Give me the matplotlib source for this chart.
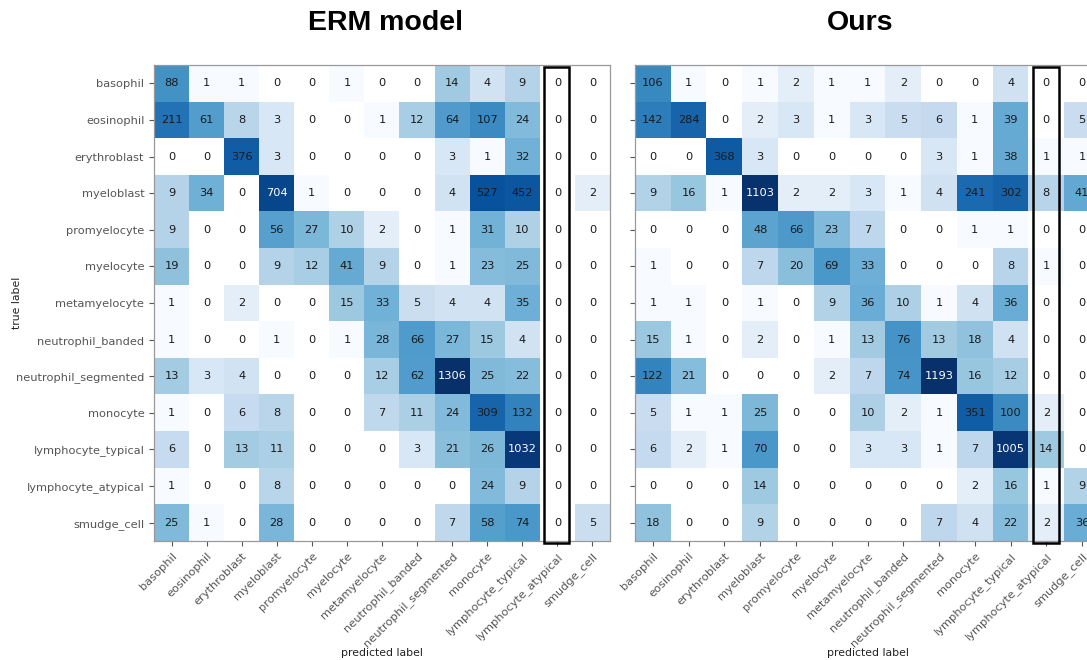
import numpy as np
import matplotlib
matplotlib.use("Agg")
import matplotlib.pyplot as plt
from matplotlib.colors import LogNorm
from matplotlib.patches import Rectangle

# Cell classes (rows = true label, columns = predicted label)
classes = [
    "basophil", "eosinophil", "erythroblast", "myeloblast", "promyelocyte",
    "myelocyte", "metamyelocyte", "neutrophil_banded", "neutrophil_segmented",
    "monocyte", "lymphocyte_typical", "lymphocyte_atypical", "smudge_cell",
]

erm_counts = [
    [88, 1, 1, 0, 0, 1, 0, 0, 14, 4, 9, 0, 0],
    [211, 61, 8, 3, 0, 0, 1, 12, 64, 107, 24, 0, 0],
    [0, 0, 376, 3, 0, 0, 0, 0, 3, 1, 32, 0, 0],
    [9, 34, 0, 704, 1, 0, 0, 0, 4, 527, 452, 0, 2],
    [9, 0, 0, 56, 27, 10, 2, 0, 1, 31, 10, 0, 0],
    [19, 0, 0, 9, 12, 41, 9, 0, 1, 23, 25, 0, 0],
    [1, 0, 2, 0, 0, 15, 33, 5, 4, 4, 35, 0, 0],
    [1, 0, 0, 1, 0, 1, 28, 66, 27, 15, 4, 0, 0],
    [13, 3, 4, 0, 0, 0, 12, 62, 1306, 25, 22, 0, 0],
    [1, 0, 6, 8, 0, 0, 7, 11, 24, 309, 132, 0, 0],
    [6, 0, 13, 11, 0, 0, 0, 3, 21, 26, 1032, 0, 0],
    [1, 0, 0, 8, 0, 0, 0, 0, 0, 24, 9, 0, 0],
    [25, 1, 0, 28, 0, 0, 0, 0, 7, 58, 74, 0, 5],
]

ours_counts = [
    [106, 1, 0, 1, 2, 1, 1, 2, 0, 0, 4, 0, 0],
    [142, 284, 0, 2, 3, 1, 3, 5, 6, 1, 39, 0, 5],
    [0, 0, 368, 3, 0, 0, 0, 0, 3, 1, 38, 1, 1],
    [9, 16, 1, 1103, 2, 2, 3, 1, 4, 241, 302, 8, 41],
    [0, 0, 0, 48, 66, 23, 7, 0, 0, 1, 1, 0, 0],
    [1, 0, 0, 7, 20, 69, 33, 0, 0, 0, 8, 1, 0],
    [1, 1, 0, 1, 0, 9, 36, 10, 1, 4, 36, 0, 0],
    [15, 1, 0, 2, 0, 1, 13, 76, 13, 18, 4, 0, 0],
    [122, 21, 0, 0, 0, 2, 7, 74, 1193, 16, 12, 0, 0],
    [5, 1, 1, 25, 0, 0, 10, 2, 1, 351, 100, 2, 0],
    [6, 2, 1, 70, 0, 0, 3, 3, 1, 7, 1005, 14, 0],
    [0, 0, 0, 14, 0, 0, 0, 0, 0, 2, 16, 1, 9],
    [18, 0, 0, 9, 0, 0, 0, 0, 7, 4, 22, 2, 36],
]

titles = ["ERM model", "Ours"]
highlight_class = "lymphocyte_atypical"

W, H = 1087, 660
fig = plt.figure(figsize=(W / 100, H / 100), dpi=100)

# axes boxes in pixel units: (left, top, right, bottom)
boxes = [(154, 65, 610, 541), (635, 65, 1100, 541)]
title_x = [385, 860]

TXT = 8.2
for k, (counts, box) in enumerate(zip([erm_counts, ours_counts], boxes)):
    cm = np.array(counts, dtype=float)
    l, t, r, b = box
    ax = fig.add_axes([l / W, 1 - b / H, (r - l) / W, (b - t) / H])
    ax.grid(False)
    masked = np.ma.masked_less_equal(cm, 0)
    ax.imshow(masked, cmap=plt.cm.Blues, norm=LogNorm(vmin=1, vmax=cm.max()),
              aspect="auto", interpolation="nearest")
    thresh = cm.max() / 2
    n = len(classes)
    for i in range(n):
        for j in range(n):
            v = int(cm[i, j])
            ax.text(j, i, str(v), ha="center", va="center", fontsize=TXT,
                    color="white" if cm[i, j] > thresh else "#1a1a1a")
    ticks = np.arange(n)
    ax.set_xticks(ticks)
    ax.set_xticklabels(classes, rotation=45, ha="right",
                       rotation_mode="anchor", fontsize=TXT, color="#222222")
    ax.set_yticks(ticks)
    if k == 0:
        ax.set_yticklabels(classes, fontsize=TXT, color="#222222")
        ax.set_ylabel("true label", fontsize=7.8, color="#222222")
        ax.yaxis.set_label_coords((22 - l) / (r - l), 0.5)
    else:
        ax.set_yticklabels([])
    ax.xaxis.set_ticks_position("bottom")
    ax.tick_params(colors="#555555", length=3.5, width=0.8)
    ax.set_xlabel("predicted label", fontsize=7.8, color="#222222",
                  va="center")
    ax.xaxis.set_label_coords(0.5, (b - 653) / (b - t))
    ax.set_xlim(-0.5, n - 0.5)
    ax.set_ylim(n - 0.5, -0.5)
    for s in ax.spines.values():
        s.set_color("#999999")
        s.set_linewidth(0.9)

    # outline the lymphocyte_atypical column
    c = classes.index(highlight_class)
    x0, w = (c - 0.37, 0.71) if k == 0 else (c - 0.36, 0.72)
    ax.add_patch(Rectangle((x0, -0.45), w, n + 0.0, fill=False,
                           edgecolor="black", linewidth=1.8, clip_on=False,
                           zorder=5))

    fig.text(title_x[k] / W, 1 - 23 / H, titles[k], ha="center", va="center",
             fontsize=20.5, fontweight="bold", family="Liberation Sans")

fig.savefig("out.png", dpi=100, facecolor="white")
